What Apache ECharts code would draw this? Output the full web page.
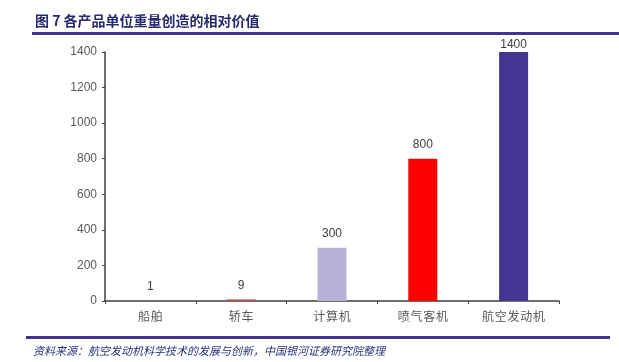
<!DOCTYPE html>
<html><head><meta charset="utf-8">
<script src="https://cdn.jsdelivr.net/npm/echarts@6/dist/echarts.min.js"></script>
<style>html,body{margin:0;padding:0;background:#fff}#c{width:619px;height:362px}</style>
</head><body><div id="c"></div>
<script>
const categories = ['船舶', '轿车', '计算机', '喷气客机', '航空发动机'];
const values = [1, 9, 300, 800, 1400];
const barColors = ['#c0504d', '#c0504d', '#b7b1d7', '#ff0000', '#433591'];
const yTicks = [0, 200, 400, 600, 800, 1000, 1200, 1400];
const titleText = '图 7 各产品单位重量创造的相对价值';
const sourceText = '资料来源：航空发动机科学技术的发展与创新，中国银河证券研究院整理';

const chart = echarts.init(document.getElementById('c'));
chart.setOption({
  animation: false,
  title: {
    text: titleText, left: 30, top: 9,
    textStyle: { fontFamily: 'Noto Sans CJK SC', fontSize: 14, fontWeight: 'bold', color: '#262a6e' }
  },
  graphic: [
    { type: 'rect', shape: { x: 32, y: 32, width: 587, height: 3 }, style: { fill: '#40348f' } },
    { type: 'rect', shape: { x: 26, y: 336, width: 584, height: 3 }, style: { fill: '#40348f' } },
    { type: 'text', left: 33, top: 345, style: { text: sourceText, font: 'italic 11px "Noto Sans CJK SC"', fill: '#26307a' } }
  ],
  grid: { left: 105, right: 60, top: 52, bottom: 61 },
  xAxis: {
    type: 'category', data: categories,
    axisLine: { lineStyle: { color: '#404040', width: 1.5 } },
    axisTick: { show: true, length: 3, lineStyle: { color: '#404040' } },
    axisLabel: { interval: 0, color: '#595959', fontSize: 12, fontFamily: 'Noto Sans CJK SC', margin: 9,
      formatter: v => v.split('').join('\u200a') }
  },
  yAxis: {
    type: 'value', min: 0, max: 1400, interval: 200,
    axisLine: { show: true, lineStyle: { color: '#404040', width: 1.5 } },
    axisTick: { show: true, length: 3, lineStyle: { color: '#404040' } },
    splitLine: { show: false },
    axisLabel: { color: '#595959', fontSize: 12, fontFamily: 'Liberation Sans', margin: 8,
      formatter: v => yTicks.includes(v) ? String(v) : '' }
  },
  series: [{
    type: 'bar', barWidth: 29,
    data: values.map((v, i) => ({
      value: v, itemStyle: { color: barColors[i] },
      label: i === values.length - 1 ? { distance: 1 } : undefined
    })),
    label: { show: true, position: 'top', distance: 8, color: '#404040', fontSize: 12, fontFamily: 'Liberation Sans' }
  }]
});
</script></body></html>
